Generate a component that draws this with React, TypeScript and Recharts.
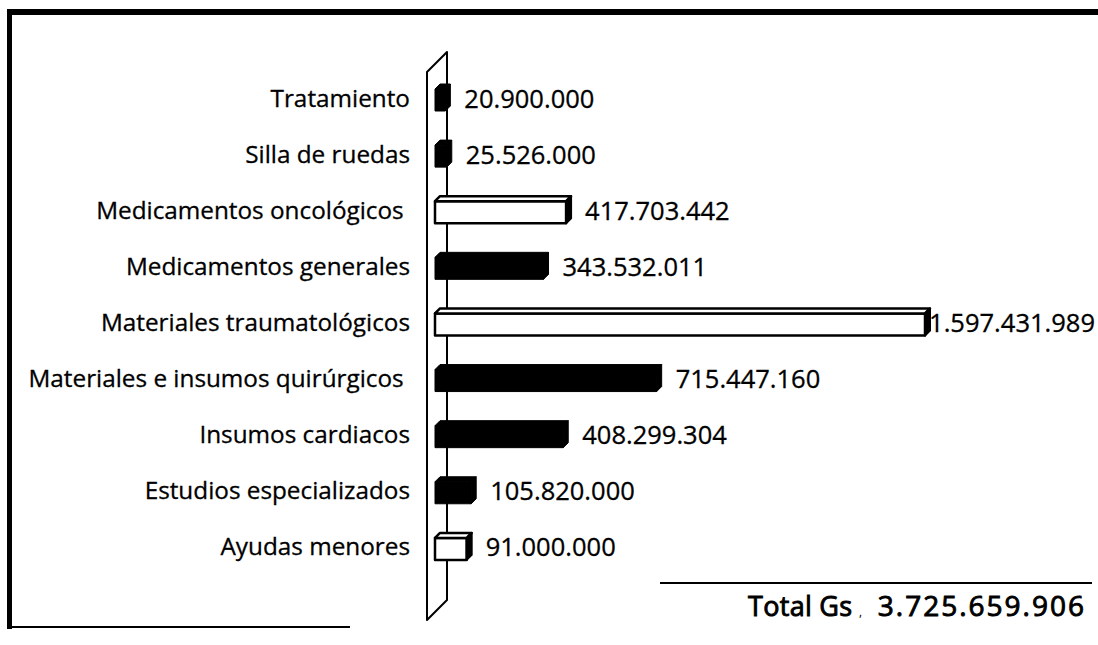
import React from 'react';
import { BarChart, Bar, XAxis, YAxis, ReferenceLine, LabelList } from 'recharts';

const categories = [
  'Tratamiento',
  'Silla de ruedas',
  'Medicamentos oncológicos ',
  'Medicamentos generales',
  'Materiales traumatológicos',
  'Materiales e insumos quirúrgicos ',
  'Insumos cardiacos',
  'Estudios especializados',
  'Ayudas menores',
];
const amounts = [20900000, 25526000, 417703442, 343532011, 1597431989, 715447160, 408299304, 105820000, 91000000];
const barTones = ['dark', 'dark', 'light', 'dark', 'light', 'dark', 'dark', 'dark', 'light'];
const totalCaption = 'Total Gs';
const totalSeparator = ',';
const totalAmount = 3725659906;

const data = categories.map((name, i) => ({ name, value: amounts[i], tone: barTones[i] }));

const W = 1098;
const H = 645;
const MARGIN = { top: 69, right: 168, bottom: 71, left: 0 };
const YAXIS_W = 444;
const FONT = '"Open Sans", sans-serif';
const VALUE_SIZE = 25.5;

const fmt = (n: number) => String(Math.round(n)).replace(/\B(?=(\d{3})+(?!\d))/g, '.');

function Bar3D(props: any) {
  const { x, y, width, height, payload } = props;
  const d = 5;
  const left = x - 9;
  const right = x + Math.max(width, 0);
  const top = y;
  const bottom = y + height;
  const dark = payload && payload.tone === 'dark';
  const front = `M${left},${top + d} L${right - d},${top + d} L${right - d},${bottom} L${left},${bottom} Z`;
  const topFace = `M${left},${top + d} L${left + d},${top} L${right},${top} L${right - d},${top + d} Z`;
  const side = `M${right - d},${top + d} L${right},${top} L${right},${bottom - d} L${right - d},${bottom} Z`;
  if (dark) {
    return (
      <g>
        <path d={front} fill="#000" stroke="#000" strokeWidth={1} strokeLinejoin="round" />
        <path d={topFace} fill="#000" stroke="#000" strokeWidth={1} strokeLinejoin="round" />
        <path d={side} fill="#000" stroke="#000" strokeWidth={1} strokeLinejoin="round" />
      </g>
    );
  }
  return (
    <g>
      <path d={front} fill="#fff" stroke="#000" strokeWidth={2.5} strokeLinejoin="round" />
      <path d={topFace} fill="#fff" stroke="#000" strokeWidth={2.5} strokeLinejoin="round" />
      <path d={side} fill="#000" stroke="#000" strokeWidth={2} strokeLinejoin="round" />
    </g>
  );
}

function ValueLabel(props: any) {
  const { x, y, width, height, value } = props;
  const text = fmt(Number(value));
  const est = text.length * VALUE_SIZE * 0.5;
  let lx = x + width + 14;
  let anchor: 'start' | 'end' = 'start';
  if (lx + est > W - 2) {
    lx = W - 3;
    anchor = 'end';
  }
  return (
    <text x={lx} y={y + height / 2} dominantBaseline="central" textAnchor={anchor}
      fontFamily={FONT} fontSize={VALUE_SIZE} fill="#000" stroke="#000" strokeWidth={0.3}>
      {text}
    </text>
  );
}

function CategoryTick(props: any) {
  const { x, y, payload } = props;
  return (
    <text x={x} y={y} textAnchor="end" dominantBaseline="central" fontFamily={FONT}
      fontSize={24.3} fill="#000" stroke="#000" strokeWidth={0.3} style={{ whiteSpace: 'pre' }}>
      {payload.value}
    </text>
  );
}

function Wall(props: any) {
  const { x1, y1, y2 } = props;
  const x = x1;
  const top = Math.min(y1, y2);
  const bottom = Math.max(y1, y2);
  const p = `M${x - 17},${top + 3} L${x + 3},${top - 17} L${x + 3},${bottom + 26} L${x - 17},${bottom + 46} Z`;
  return <path d={p} fill="#fff" stroke="#000" strokeWidth={2} strokeLinejoin="round" />;
}

export default function App() {
  return (
    <div style={{ position: 'absolute', left: 0, top: 0, width: W, height: H, background: '#fff' }}>
      {/* back layer: the 3D wall behind the bars */}
      <div style={{ position: 'absolute', left: 0, top: 0 }}>
        <BarChart width={W} height={H} data={data} layout="vertical" margin={MARGIN} barCategoryGap={0}>
          <XAxis type="number" dataKey="value" domain={[0, 'dataMax']} hide />
          <YAxis type="category" dataKey="name" width={YAXIS_W} axisLine={false} tickLine={false} tick={false} />
          <ReferenceLine x={0} shape={(p: any) => <Wall {...p} />} />
          <Bar dataKey="value" barSize={27} fill="none" isAnimationActive={false} shape={() => <g />} />
        </BarChart>
      </div>
      {/* front layer: bars, labels, categories */}
      <div style={{ position: 'absolute', left: 0, top: 0 }}>
        <BarChart width={W} height={H} data={data} layout="vertical" margin={MARGIN} barCategoryGap={0}>
          <XAxis type="number" dataKey="value" domain={[0, 'dataMax']} hide />
          <YAxis type="category" dataKey="name" width={YAXIS_W} axisLine={false} tickLine={false}
            tickSize={0} tickMargin={34} tick={<CategoryTick />} interval={0} />
          <Bar dataKey="value" barSize={27} shape={(p: any) => <Bar3D {...p} />} isAnimationActive={false}>
            <LabelList dataKey="value" content={(p: any) => <ValueLabel {...p} />} />
          </Bar>
        </BarChart>
      </div>
      <div style={{ position: 'absolute', left: 7, top: 9, width: W - 7, height: 6, background: '#000' }} />
      <div style={{ position: 'absolute', left: 7, top: 9, width: 5, height: 620, background: '#000' }} />
      <div style={{ position: 'absolute', left: 7, top: 626, width: 343, height: 2, background: '#000' }} />
      <svg style={{ position: 'absolute', left: 0, top: 0 }} width={W} height={H}>
        <line x1={660} y1={583} x2={1092} y2={583} stroke="#000" strokeWidth={2} />
        <text x={748} y={616} fontFamily={FONT} fontSize={27} fill="#000" stroke="#000" strokeWidth={0.9}
          letterSpacing={0.3}>{totalCaption}</text>
        <text x={859} y={616} fontFamily={FONT} fontSize={12} fill="#000">{totalSeparator}</text>
        <text x={1086} y={616} textAnchor="end" fontFamily={FONT} fontSize={28} fill="#000" stroke="#000"
          strokeWidth={0.9} letterSpacing={2}>{fmt(totalAmount)}</text>
      </svg>
    </div>
  );
}
